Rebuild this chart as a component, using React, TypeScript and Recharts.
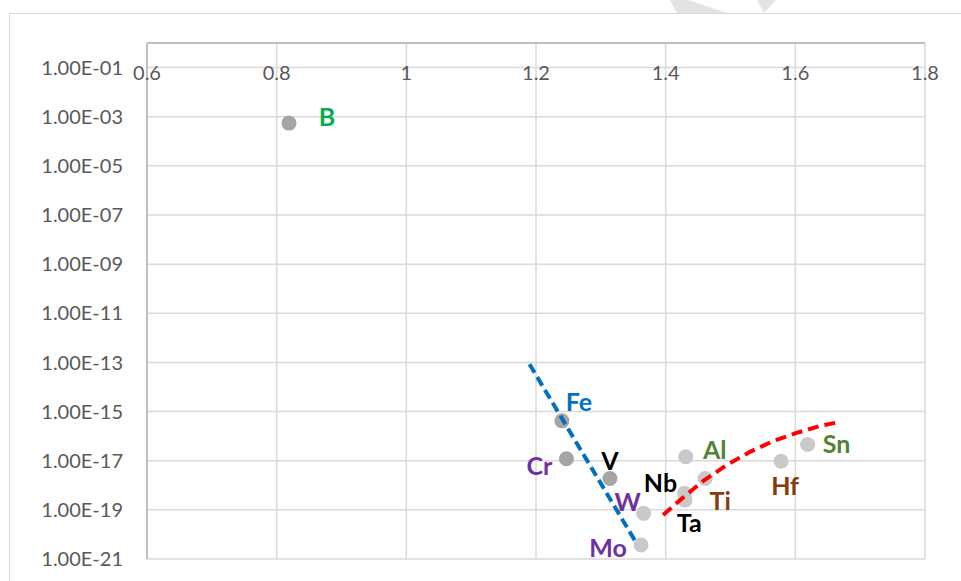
import React from "react";
import {
  ScatterChart, Scatter, XAxis, YAxis, CartesianGrid
} from "recharts";

// element, atomic radius-ish x value, y value
const darkPoints = [
  { name: "B", x: 0.819, y: 5.5e-4 },
  { name: "Fe", x: 1.240, y: 4.2e-16 },
  { name: "Cr", x: 1.247, y: 1.2e-17 },
  { name: "V", x: 1.314, y: 1.9e-18 }
];

const lightPoints = [
  { name: "Al", x: 1.431, y: 1.45e-17 },
  { name: "Ti", x: 1.461, y: 1.9e-18 },
  { name: "Nb", x: 1.429, y: 4.7e-19 },
  { name: "Ta", x: 1.430, y: 2.5e-19 },
  { name: "W", x: 1.366, y: 7.2e-20 },
  { name: "Mo", x: 1.362, y: 3.7e-21 },
  { name: "Hf", x: 1.578, y: 9.5e-18 },
  { name: "Sn", x: 1.619, y: 4.6e-17 }
];

const blueTrend = [
  { x: 1.19, y: 8.5e-14 },
  { x: 1.355, y: 4.4e-21 }
];

const redTrend = [
  { x: 1.396, y: 6.2e-20 },
  { x: 1.427, y: 3.2e-19 },
  { x: 1.458, y: 1.5e-18 },
  { x: 1.494, y: 6.6e-18 },
  { x: 1.530, y: 2.3e-17 },
  { x: 1.566, y: 6.3e-17 },
  { x: 1.602, y: 1.35e-16 },
  { x: 1.638, y: 2.6e-16 },
  { x: 1.669, y: 3.8e-16 }
];

const xTicks = [0.6, 0.8, 1, 1.2, 1.4, 1.6, 1.8];
const yTicks = [1e-21, 1e-19, 1e-17, 1e-15, 1e-13, 1e-11, 1e-9, 1e-7, 1e-5, 1e-3, 1e-1];

// label colour and offset from the dot centre
const LABELS: Record<string, { color: string; dx: number; dy: number }> = {
  B: { color: "#00b050", dx: 38, dy: -7 },
  Fe: { color: "#0070c0", dx: 17, dy: -20 },
  Cr: { color: "#7030a0", dx: -27, dy: 6 },
  V: { color: "#000000", dx: 0, dy: -18 },
  Al: { color: "#548235", dx: 29, dy: -8 },
  Ti: { color: "#843c0c", dx: 15, dy: 22 },
  Nb: { color: "#000000", dx: -24, dy: -11 },
  Ta: { color: "#000000", dx: 4, dy: 22 },
  W: { color: "#7030a0", dx: -16, dy: -12 },
  Mo: { color: "#7030a0", dx: -33, dy: 2 },
  Hf: { color: "#843c0c", dx: 4, dy: 24 },
  Sn: { color: "#548235", dx: 29, dy: -1 }
};

const FONT = "Lato, 'Liberation Sans', sans-serif";

const fmtExp = (v: number) => {
  const e = Math.round(Math.log10(v));
  return `1.00E${e < 0 ? "-" : "+"}${String(Math.abs(e)).padStart(2, "0")}`;
};

const makeDot = (fill: string) => (props: any) => {
  const { cx, cy, payload } = props;
  const lab = LABELS[payload.name];
  return (
    <g>
      <circle cx={cx} cy={cy} r={7.5} fill={fill} />
      {lab && (
        <text
          x={cx + lab.dx}
          y={cy + lab.dy}
          textAnchor="middle"
          dominantBaseline="central"
          fill={lab.color}
          fontFamily={FONT}
          fontWeight={700}
          fontSize={25}
        >
          {payload.name}
        </text>
      )}
    </g>
  );
};

const XTick = ({ x, y, payload }: any) => (
  <text x={x} y={y + 37} textAnchor="middle" fill="#595959" fontFamily={FONT} fontSize={20}>
    {String(payload.value)}
  </text>
);

const noShape = () => <g />;

export default function App() {
  return (
    <div style={{ position: "absolute", left: 0, top: 0, width: 961, height: 581, overflow: "hidden", background: "#fff" }}>
      {/* outer chart frame */}
      <div style={{ position: "absolute", left: 9, top: 13, width: 1000, height: 1000, border: "1px solid #d9d9d9" }} />
      <svg style={{ position: "absolute", left: 0, top: 0 }} width={961} height={20}>
        <polygon points="670,0 677,13 727,13 688,0" fill="#e3e3e3" />
        <polygon points="757,0 764,13 776,0" fill="#e3e3e3" />
      </svg>
      <div style={{ position: "absolute", left: 0, top: 0 }}>
        <ScatterChart width={961} height={581} margin={{ top: 13, right: 36, bottom: 22, left: 17 }}>
          <CartesianGrid stroke="#d9d9d9" strokeWidth={1.5} />
          <XAxis
            type="number"
            dataKey="x"
            orientation="top"
            domain={[0.6, 1.8]}
            ticks={xTicks}
            height={30}
            tickSize={0}
            tickMargin={0}
            axisLine={{ stroke: "#bfbfbf", strokeWidth: 2 }}
            tickLine={false}
            tick={<XTick />}
            allowDataOverflow
          />
          <YAxis
            type="number"
            dataKey="y"
            scale="log"
            domain={[1e-21, 1]}
            ticks={yTicks}
            width={130}
            tickSize={0}
            tickMargin={24}
            tickFormatter={fmtExp}
            axisLine={{ stroke: "#bfbfbf", strokeWidth: 2 }}
            tickLine={false}
            tick={{ fill: "#595959", fontSize: 20, fontFamily: FONT }}
            allowDataOverflow
          />
          <Scatter data={darkPoints} shape={makeDot("#a5a5a5")} isAnimationActive={false} />
          <Scatter data={lightPoints} shape={makeDot("#c9c9c9")} isAnimationActive={false} />
          <Scatter
            data={blueTrend}
            shape={noShape}
            line={{ stroke: "#0070c0", strokeWidth: 4, strokeDasharray: "10 5" }}
            lineType="joint"
            isAnimationActive={false}
          />
          <Scatter
            data={redTrend}
            shape={noShape}
            line={{ stroke: "#ff0000", strokeWidth: 4, strokeDasharray: "11 6" }}
            lineType="joint"
            isAnimationActive={false}
          />
        </ScatterChart>
      </div>
    </div>
  );
}
